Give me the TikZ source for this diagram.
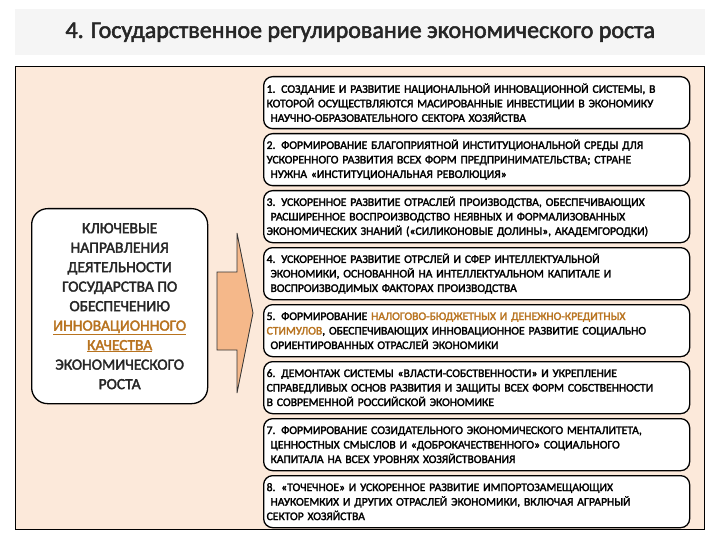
\documentclass[tikz,border=0pt]{standalone}
\usepackage{fontspec}
\setmainfont{Carlito}[AutoFakeBold=2.2]
\begin{document}
\begin{tikzpicture}[x=1pt,y=-1pt,
  item/.style={draw=black,line width=1.3pt,fill=white,rounded corners=9pt,minimum width=426pt,minimum height=52pt,anchor=north west,align=left,text width=420pt,inner xsep=3pt,font=\bfseries\fontsize{11.6}{14.5}\selectfont}]
\definecolor{peach}{HTML}{FCE9DA}
\definecolor{orng}{HTML}{F5B88A}
\definecolor{brn}{HTML}{B8731F}
\useasboundingbox (0,0) rectangle (720,540);
\fill[white] (0,0) rectangle (720,540);
\node[fill=gray!8,minimum width=690pt,minimum height=46pt,anchor=north west,font=\bfseries\fontsize{24}{28}\selectfont,text=black!85] (title) at (15,9) {4. Государственное регулирование экономического роста};
\node[draw=black,line width=1.2pt,fill=peach,minimum width=689pt,minimum height=463pt,anchor=north west] (frame) at (15,66) {};
\node[draw=black,line width=1.3pt,fill=white,rounded corners=16pt,minimum width=176pt,minimum height=195pt,anchor=north west,align=center,font=\bfseries\fontsize{15.5}{19.5}\selectfont,text=black!85] (left) at (31,208) {КЛЮЧЕВЫЕ\\НАПРАВЛЕНИЯ\\ДЕЯТЕЛЬНОСТИ\\ГОСУДАРСТВА ПО\\ОБЕСПЕЧЕНИЮ\\\textcolor{brn}{\underline{ИННОВАЦИОННОГО}}\\\textcolor{brn}{\underline{КАЧЕСТВА}}\\ЭКОНОМИЧЕСКОГО\\РОСТА};
\draw[fill=orng,draw=black!80,line width=0.8pt] (217,272) -- (237,272) -- (237,233) -- (253,313) -- (237,393) -- (237,350) -- (217,350) -- cycle;
\node[item] (b1) at (263,76) {1. СОЗДАНИЕ И РАЗВИТИЕ НАЦИОНАЛЬНОЙ ИННОВАЦИОННОЙ СИСТЕМЫ, В\\КОТОРОЙ ОСУЩЕСТВЛЯЮТСЯ МАСИРОВАННЫЕ ИНВЕСТИЦИИ В ЭКОНОМИКУ\\\ НАУЧНО-ОБРАЗОВАТЕЛЬНОГО СЕКТОРА ХОЗЯЙСТВА};
\node[item] (b2) at (263,133) {2. ФОРМИРОВАНИЕ БЛАГОПРИЯТНОЙ ИНСТИТУЦИОНАЛЬНОЙ СРЕДЫ ДЛЯ\\УСКОРЕННОГО РАЗВИТИЯ ВСЕХ ФОРМ ПРЕДПРИНИМАТЕЛЬСТВА; СТРАНЕ\\\ НУЖНА «ИНСТИТУЦИОНАЛЬНАЯ РЕВОЛЮЦИЯ»};
\node[item] (b3) at (263,190) {3. УСКОРЕННОЕ РАЗВИТИЕ ОТРАСЛЕЙ ПРОИЗВОДСТВА, ОБЕСПЕЧИВАЮЩИХ\\\ РАСШИРЕННОЕ ВОСПРОИЗВОДСТВО НЕЯВНЫХ И ФОРМАЛИЗОВАННЫХ\\ЭКОНОМИЧЕСКИХ ЗНАНИЙ («СИЛИКОНОВЫЕ ДОЛИНЫ», АКАДЕМГОРОДКИ)};
\node[item] (b4) at (263,247) {4. УСКОРЕННОЕ РАЗВИТИЕ ОТРСЛЕЙ И СФЕР ИНТЕЛЛЕКТУАЛЬНОЙ\\\ ЭКОНОМИКИ, ОСНОВАННОЙ НА ИНТЕЛЛЕКТУАЛЬНОМ КАПИТАЛЕ И\\\ ВОСПРОИЗВОДИМЫХ ФАКТОРАХ ПРОИЗВОДСТВА};
\node[item] (b5) at (263,304) {5. ФОРМИРОВАНИЕ \textcolor{brn}{НАЛОГОВО-БЮДЖЕТНЫХ И ДЕНЕЖНО-КРЕДИТНЫХ}\\\textcolor{brn}{СТИМУЛОВ}, ОБЕСПЕЧИВАЮЩИХ ИННОВАЦИОННОЕ РАЗВИТИЕ СОЦИАЛЬНО\\\ ОРИЕНТИРОВАННЫХ ОТРАСЛЕЙ ЭКОНОМИКИ};
\node[item] (b6) at (263,361) {6. ДЕМОНТАЖ СИСТЕМЫ «ВЛАСТИ-СОБСТВЕННОСТИ» И УКРЕПЛЕНИЕ\\СПРАВЕДЛИВЫХ ОСНОВ РАЗВИТИЯ И ЗАЩИТЫ ВСЕХ ФОРМ СОБСТВЕННОСТИ\\В СОВРЕМЕННОЙ РОССИЙСКОЙ ЭКОНОМИКЕ};
\node[item] (b7) at (263,418) {7. ФОРМИРОВАНИЕ СОЗИДАТЕЛЬНОГО ЭКОНОМИЧЕСКОГО МЕНТАЛИТЕТА,\\\ ЦЕННОСТНЫХ СМЫСЛОВ И «ДОБРОКАЧЕСТВЕННОГО» СОЦИАЛЬНОГО\\\ КАПИТАЛА НА ВСЕХ УРОВНЯХ ХОЗЯЙСТВОВАНИЯ};
\node[item] (b8) at (263,475) {8. «ТОЧЕЧНОЕ» И УСКОРЕННОЕ РАЗВИТИЕ ИМПОРТОЗАМЕЩАЮЩИХ\\\ НАУКОЕМКИХ И ДРУГИХ ОТРАСЛЕЙ ЭКОНОМИКИ, ВКЛЮЧАЯ АГРАРНЫЙ\\СЕКТОР ХОЗЯЙСТВА};
\end{tikzpicture}
\end{document}
